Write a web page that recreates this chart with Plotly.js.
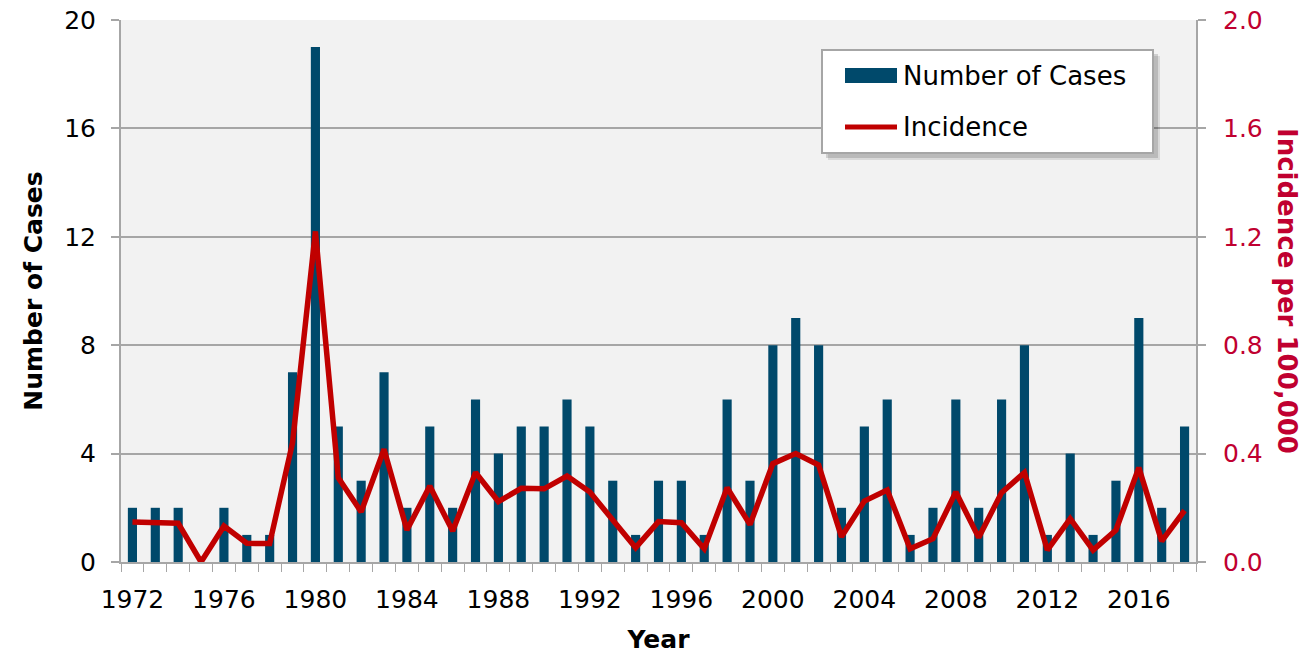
<!DOCTYPE html>
<html>
<head>
<meta charset="utf-8">
<script src="https://cdn.plot.ly/plotly-3.0.1.min.js"></script>
<style>html,body{margin:0;padding:0;background:#fff;}#chart{width:1304px;height:654px;}</style>
</head>
<body>
<div id="chart"></div>
<script>
const years = [1972,1973,1974,1975,1976,1977,1978,1979,1980,1981,1982,1983,1984,1985,1986,1987,1988,1989,1990,1991,1992,1993,1994,1995,1996,1997,1998,1999,2000,2001,2002,2003,2004,2005,2006,2007,2008,2009,2010,2011,2012,2013,2014,2015,2016,2017,2018];
const cases = [2,2,2,0,2,1,1,7,19,5,3,7,2,5,2,6,4,5,5,6,5,3,1,3,3,1,6,3,8,9,8,2,5,6,1,2,6,2,6,8,1,4,1,3,9,2,5];
const incidence = [0.148,0.145,0.143,0.0,0.133,0.069,0.068,0.44,1.22,0.311,0.185,0.416,0.118,0.28,0.114,0.33,0.223,0.272,0.27,0.317,0.258,0.155,0.053,0.149,0.145,0.049,0.274,0.138,0.363,0.40,0.358,0.093,0.225,0.266,0.049,0.086,0.258,0.09,0.256,0.33,0.044,0.16,0.044,0.118,0.348,0.077,0.19];
const xTickVals = [1972,1976,1980,1984,1988,1992,1996,2000,2004,2008,2012,2016];
const leftTicks = [0,4,8,12,16,20];
const rightTicks = [0,0.4,0.8,1.2,1.6,2.0];
const seriesNames = ['Number of Cases', 'Incidence'];

const FONT = 'DejaVu Sans, Verdana, sans-serif';
const GRID = '#a6a6a6';
const RED = '#c00030';
const BAR = '#00496b';
const LINE = '#c00000';

const traces = [
  {
    type: 'bar', x: years, y: cases, name: seriesNames[0],
    marker: {color: BAR}, width: 0.4, yaxis: 'y'
  },
  {
    type: 'scatter', mode: 'lines', x: years, y: incidence, name: seriesNames[1],
    line: {color: LINE, width: 5.5}, yaxis: 'y2'
  }
];

const L = 121, R = 1196, T = 20, B = 562;
const pw = R - L, ph = B - T;
function px(x){ return (x - L) / pw; }
function py(y){ return (B - y) / ph; }
function prect(x0, y0, x1, y1, fill, line, extra){
  return Object.assign({type: 'rect', xref: 'paper', yref: 'paper', x0: px(x0), x1: px(x1), y0: py(y1), y1: py(y0),
    fillcolor: fill, line: line || {width: 0}, layer: 'above'}, extra || {});
}

const layout = {
  width: 1304, height: 654,
  margin: {l: L, r: 1304 - R, t: T, b: 654 - B},
  paper_bgcolor: '#ffffff',
  plot_bgcolor: '#f2f2f2',
  font: {family: FONT, size: 25, color: '#000'},
  showlegend: false,
  xaxis: {
    range: [1971.5, 2018.5],
    tickvals: xTickVals, ticktext: xTickVals.map(String),
    ticks: '', showgrid: false, zeroline: false,
    showline: true, linecolor: GRID, linewidth: 2,
    ticklabelstandoff: 14,
    tickfont: {family: FONT, size: 25, color: '#000'},
    minor: {tick0: 1971.5, dtick: 1, ticks: 'outside', ticklen: 8, tickcolor: GRID, tickwidth: 1, showgrid: false},
    title: {text: '<b>Year</b>', font: {family: FONT, size: 25, color: '#000'}, standoff: 18}
  },
  yaxis: {
    range: [0, 20], tickvals: leftTicks, ticktext: leftTicks.map(String),
    showgrid: true, gridcolor: GRID, gridwidth: 2, zeroline: false,
    showline: true, linecolor: GRID, linewidth: 2,
    ticks: 'outside', ticklen: 8, tickcolor: GRID, tickwidth: 2,
    ticklabelstandoff: 10,
    tickfont: {family: FONT, size: 25, color: '#000'},
    title: {text: '<b>Number of Cases</b>', font: {family: FONT, size: 25, color: '#000'}, standoff: 14}
  },
  yaxis2: {
    range: [0, 2.0], overlaying: 'y', side: 'right',
    tickvals: rightTicks, ticktext: rightTicks.map(v => v.toFixed(1)),
    showgrid: false, zeroline: false,
    showline: true, linecolor: GRID, linewidth: 2,
    ticks: 'outside', ticklen: 8, tickcolor: GRID, tickwidth: 2,
    ticklabelstandoff: 12,
    tickfont: {family: FONT, size: 25, color: RED}
  },
  shapes: [
    prect(828, 56, 1160, 160, 'rgba(0,0,0,0.10)'),
    prect(826, 54, 1158, 158, 'rgba(0,0,0,0.14)'),
    prect(822, 50, 1153, 153, '#ffffff', {color: GRID, width: 2}),
    prect(845, 68, 897, 83, BAR),
    {type: 'line', xref: 'paper', yref: 'paper', x0: px(845), x1: px(897), y0: py(127), y1: py(127),
     line: {color: LINE, width: 5}, layer: 'above'}
  ],
  annotations: [
    {text: seriesNames[0], xref: 'paper', yref: 'paper', x: px(901), y: py(76),
     xanchor: 'left', yanchor: 'middle', showarrow: false, font: {family: FONT, size: 26, color: '#000'}},
    {text: seriesNames[1], xref: 'paper', yref: 'paper', x: px(901), y: py(127),
     xanchor: 'left', yanchor: 'middle', showarrow: false, font: {family: FONT, size: 26, color: '#000'}},
    {text: '<b>Incidence per 100,000</b>', xref: 'paper', yref: 'paper', x: px(1287), y: py(291),
     xanchor: 'center', yanchor: 'middle', textangle: 90, showarrow: false,
     font: {family: FONT, size: 26, color: RED}}
  ]
};

Plotly.newPlot('chart', traces, layout, {displayModeBar: false, staticPlot: true});
</script>
</body>
</html>
